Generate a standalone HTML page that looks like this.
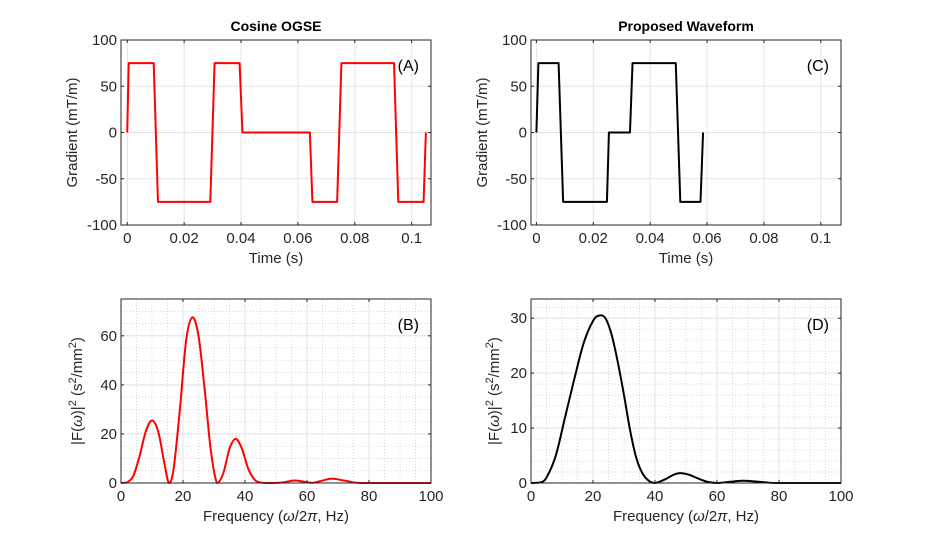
<!DOCTYPE html>
<html><head><meta charset="utf-8"><style>
body{margin:0;background:#fff;}
svg{display:block;font-family:"Liberation Sans",sans-serif;}
</style></head><body>
<svg id="fig" width="930" height="545" viewBox="0 0 930 545" xmlns="http://www.w3.org/2000/svg"></svg>
<script>
// Panel A data (Cosine OGSE)
const timeA = [0,0.0005,0.0093,0.0108,0.0292,0.0307,0.0395,0.0405,0.0642,0.0651,0.0738,0.0753,0.0938,0.0953,0.1042,0.105];
const gradA = [0,75,75,-75,-75,75,75,0,0,-75,-75,75,75,-75,-75,0];
// Panel C data (Proposed)
const timeC = [0,0.0007,0.0078,0.0094,0.0248,0.0255,0.0329,0.0338,0.0490,0.0506,0.0577,0.0586];
const gradC = [0,75,75,-75,-75,0,0,75,75,-75,-75,0];
// Panel B spectrum
const freqB = [0,2,4,6,8,10,12,14,15.5,17,19,21,23,25,27,29,31,33,35,37,39,41,43,45,48,52,56,60,62,65,68,72,76,80,100];
const specB = [0,0.3,3,11,21,25.5,21,8,0,6,30,58,67.5,60,38,13,0,4,14,18,14,6,1.5,0.2,0,0.2,1,0.3,0.1,1,1.8,1,0.1,0,0];
// Panel D spectrum
const freqD = [0,3,5,8,11,14,17,20,22,24,26,28,30,32,34,36,38,40,43,46,48,51,54,57,60,64,68,72,76,80,100];
const specD = [0,0.1,1,5,12,19,25.5,29.5,30.5,30,27,22,16,9.5,4.5,1.7,0.4,0,0.6,1.5,1.8,1.5,0.8,0.2,0,0.2,0.4,0.3,0.1,0,0];
const timeTicks = [0,0.02,0.04,0.06,0.08,0.1];
const timeTickLabels = ["0","0.02","0.04","0.06","0.08","0.1"];
const gradTicks = [-100,-50,0,50,100];
const freqTicks = [0,20,40,60,80,100];
const specBTicks = [0,20,40,60];
const specDTicks = [0,10,20,30];

const NS="http://www.w3.org/2000/svg";
const svg=document.getElementById('fig');
function mk(tag,attrs,parent){const e=document.createElementNS(NS,tag);for(const k in attrs)e.setAttribute(k,attrs[k]);(parent||svg).appendChild(e);return e;}

function panel(o){
  const g=mk('g',{});
  
  
  const L=o.x,T=o.y,W=o.w,H=o.h;
  const sx=v=>L+(v-o.xmin)/(o.xmax-o.xmin)*W;
  const sy=v=>T+H-(v-o.ymin)/(o.ymax-o.ymin)*H;
  mk('rect',{x:L,y:T,width:W,height:H,fill:'#fff'},g);
  if(o.minor){
    for(let v=o.xmin;v<=o.xmax+1e-9;v+=o.minor[0]){const p=sx(v);mk('line',{x1:p,x2:p,y1:T,y2:T+H,stroke:'#c8c8c8','stroke-width':0.7,'stroke-dasharray':'1,2'},g);}
    for(let v=o.ymin;v<=o.ymax+1e-9;v+=o.minor[1]){const p=sy(v);mk('line',{x1:L,x2:L+W,y1:p,y2:p,stroke:'#c8c8c8','stroke-width':0.7,'stroke-dasharray':'1,2'},g);}
  }
  o.xt.forEach(v=>{const p=sx(v);mk('line',{x1:p,x2:p,y1:T,y2:T+H,stroke:'#e3e3e3','stroke-width':1},g);});
  o.yt.forEach(v=>{const p=sy(v);mk('line',{x1:L,x2:L+W,y1:p,y2:p,stroke:'#e3e3e3','stroke-width':1},g);});
  let d='';
  if(o.smooth){
    const pts=o.xs.map((x,i)=>[sx(x),sy(o.ys[i])]);
    d='M'+pts[0][0]+','+pts[0][1];
    for(let i=0;i<pts.length-1;i++){
      const p0=pts[Math.max(0,i-1)],p1=pts[i],p2=pts[i+1],p3=pts[Math.min(pts.length-1,i+2)];
      let c1y=p1[1]+(p2[1]-p0[1])/6, c2y=p2[1]-(p3[1]-p1[1])/6;
      const base=sy(0);c1y=Math.min(c1y,base);c2y=Math.min(c2y,base);
      d+=` C${p1[0]+(p2[0]-p0[0])/6},${c1y} ${p2[0]-(p3[0]-p1[0])/6},${c2y} ${p2[0]},${p2[1]}`;
    }
  } else {
    d=o.xs.map((x,i)=>(i?'L':'M')+sx(x)+','+sy(o.ys[i])).join(' ');
  }
  const path=mk('path',{d:d,fill:'none',stroke:o.color,'stroke-width':2,'stroke-linejoin':'round'},g);
  
  
  mk('rect',{x:L,y:T,width:W,height:H,fill:'none',stroke:'#262626','stroke-width':1},g);
  o.xt.forEach((v,i)=>{const p=sx(v);
    mk('line',{x1:p,x2:p,y1:T+H,y2:T+H-3,stroke:'#262626'},g);mk('line',{x1:p,x2:p,y1:T,y2:T+3,stroke:'#262626'},g);
    const t=mk('text',{x:p,y:T+H+18,'text-anchor':'middle','font-size':15,fill:'#262626'},g);t.textContent=o.xl?o.xl[i]:String(v);
    });
  o.yt.forEach(v=>{const p=sy(v);
    mk('line',{x1:L,x2:L+3,y1:p,y2:p,stroke:'#262626'},g);mk('line',{x1:L+W,x2:L+W-3,y1:p,y2:p,stroke:'#262626'},g);
    const t=mk('text',{x:L-4,y:p+5,'text-anchor':'end','font-size':15,fill:'#262626'},g);t.textContent=String(v);
    });
  const xt=mk('text',{x:L+W/2,y:T+H+38,'text-anchor':'middle','font-size':15,fill:'#262626'},g);xt.innerHTML=o.xlabel;
  
  const yx=o.ylabX, yy=T+H/2;
  const yt=mk('text',{x:yx,y:yy,'text-anchor':'middle','font-size':15,fill:'#262626',transform:`rotate(-90 ${yx} ${yy})`},g);yt.innerHTML=o.ylabel;
  
  const lab=mk('text',{x:L+W-12,y:T+31,'text-anchor':'end','font-size':16,fill:'#000'},g);lab.textContent=o.tag;
  
  if(o.title){const tt=mk('text',{x:L+W/2,y:T-9,'text-anchor':'middle','font-size':14,'font-weight':'bold',fill:'#000'},g);tt.textContent=o.title;
    }
}
const ylabG='Gradient (mT/m)';
const ylabF='|F(<tspan font-style="italic">ω</tspan>)|<tspan dy="-6" font-size="11">2</tspan><tspan dy="6"> (s</tspan><tspan dy="-6" font-size="11">2</tspan><tspan dy="6">/mm</tspan><tspan dy="-6" font-size="11">2</tspan><tspan dy="6">)</tspan>';
const xlabF='Frequency (<tspan font-style="italic">ω</tspan>/2<tspan font-style="italic">π</tspan>, Hz)';
panel({name:'panel-a',x:121,y:40,w:310,h:185,xmin:-0.0022,xmax:0.1068,ymin:-100,ymax:100,xt:timeTicks,xl:timeTickLabels,yt:gradTicks,xs:timeA,ys:gradA,color:'#ff0000',xlabel:'Time (s)',ylabel:ylabG,ylabX:77,tag:'(A)',title:'Cosine OGSE'});
panel({name:'panel-c',x:531,y:40,w:310,h:185,xmin:-0.0019,xmax:0.1071,ymin:-100,ymax:100,xt:timeTicks,xl:timeTickLabels,yt:gradTicks,xs:timeC,ys:gradC,color:'#000000',xlabel:'Time (s)',ylabel:ylabG,ylabX:487,tag:'(C)',title:'Proposed Waveform'});
panel({name:'panel-b',x:121,y:299,w:310,h:184,xmin:0,xmax:100,ymin:0,ymax:75,xt:freqTicks,yt:specBTicks,minor:[5,5],xs:freqB,ys:specB,color:'#ff0000',smooth:true,xlabel:xlabF,ylabel:ylabF,ylabX:82,tag:'(B)'});
panel({name:'panel-d',x:531,y:299,w:310,h:184,xmin:0,xmax:100,ymin:0,ymax:33.5,xt:freqTicks,yt:specDTicks,minor:[5,2],xs:freqD,ys:specD,color:'#000000',smooth:true,xlabel:xlabF,ylabel:ylabF,ylabX:499,tag:'(D)'});
</script>
</body></html>
